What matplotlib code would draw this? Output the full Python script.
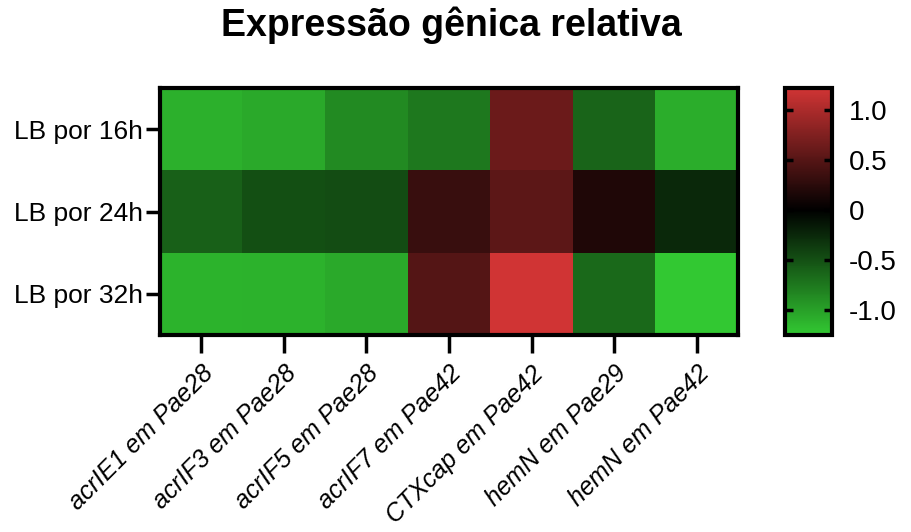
import numpy as np
import matplotlib.pyplot as plt
from matplotlib.colors import LinearSegmentedColormap

plt.rcParams['font.family'] = ['Liberation Sans', 'DejaVu Sans']

genes = ['acrIE1 em Pae28', 'acrIF3 em Pae28', 'acrIF5 em Pae28', 'acrIF7 em Pae42',
         'CTXcap em Pae42', 'hemN em Pae29', 'hemN em Pae42']
conditions = ['LB por 16h', 'LB por 24h', 'LB por 32h']

lb_16h = [-1.10, -1.05, -0.86, -0.75, 0.63, -0.63, -1.08]
lb_24h = [-0.60, -0.49, -0.47, 0.33, 0.54, 0.18, -0.25]
lb_32h = [-1.12, -1.11, -1.05, 0.49, 1.22, -0.66, -1.25]

cbar_ticks = [-1.0, -0.5, 0, 0.5, 1.0]
cbar_labels = ['-1.0', '-0.5', '0', '0.5', '1.0']

data = np.array([lb_16h, lb_24h, lb_32h])
vmin, vmax = data.min(), data.max()

# green -> black -> red, with black sitting at zero
z = -vmin / (vmax - vmin)
cmap = LinearSegmentedColormap.from_list(
    'grn_red', [(0, '#32c832'), (z, '#000000'), (1, '#d03434')])

fig = plt.figure(figsize=(9.11, 5.32), dpi=100)
ax = fig.add_axes([160 / 911, 1 - 335 / 532, 578 / 911, 247 / 532])
cax = fig.add_axes([785 / 911, 1 - 335 / 532, 47 / 911, 247 / 532])

im = ax.imshow(data, cmap=cmap, vmin=vmin, vmax=vmax, aspect='auto')

ax.set_xticks(range(len(genes)))
ax.set_xticklabels(genes, rotation=45, ha='right', rotation_mode='anchor',
                   fontsize=18, style='italic')
ax.set_yticks(range(len(conditions)))
ax.set_yticklabels(conditions, fontsize=19)
ax.tick_params(axis='x', length=13, width=2.5, pad=6)
ax.tick_params(axis='y', length=10, width=2.5, pad=2)
for s in ax.spines.values():
    s.set_linewidth(3)

fig.suptitle('Expressão gênica relativa', x=451 / 911, y=1 - 6 / 532, va='top',
             fontsize=27, fontweight='bold')

cb = fig.colorbar(im, cax=cax, ticks=cbar_ticks)
cb.ax.set_yticklabels(cbar_labels, fontsize=20)
cb.ax.tick_params(which='major', direction='in', length=6, width=2.5,
                  left=True, right=True, pad=12)
cb.outline.set_linewidth(3)

fig.savefig('out.png', dpi=100)
